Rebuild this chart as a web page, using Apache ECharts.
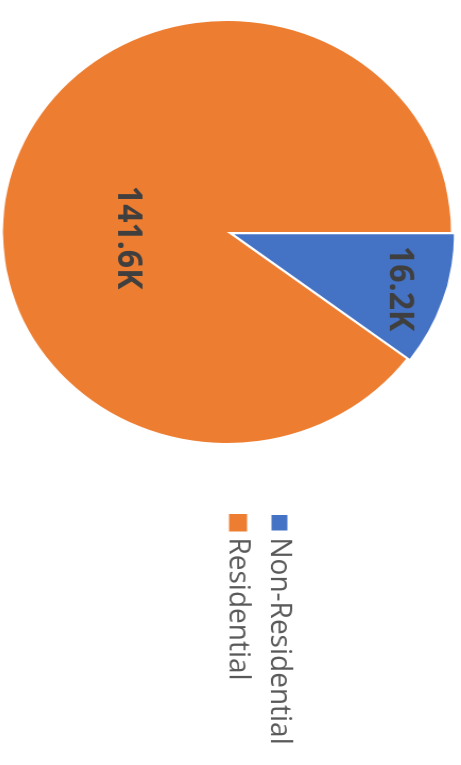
<!DOCTYPE html>
<html>
<head>
<meta charset="utf-8">
<script src="https://cdn.jsdelivr.net/npm/echarts@6/dist/echarts.min.js"></script>
<style>
  html, body { margin: 0; padding: 0; background: #fff; overflow: hidden; }
  #wrap { position: absolute; left: 0; top: 0; width: 461px; height: 765px; }
  #chart {
    position: absolute; left: 0; top: 0;
    width: 765px; height: 434px;
    transform-origin: 0 0;
    transform: translate(461px, 0) rotate(90deg) scale(1, 1.0616);
  }
</style>
</head>
<body>
<div id="wrap"><div id="chart"></div></div>
<script>
// Data
const categories = ['Non-Residential', 'Residential'];
const values = [16200, 141600];
const colors = ['#4472C4', '#ED7D31'];

// Label offsets (layout only)
const labelShift = [
  { dx: 21, dy: -56 },
  { dx: 40, dy: -9 }
];

const chart = echarts.init(document.getElementById('chart'), null, { renderer: 'canvas' });
chart.setOption({
  animation: false,
  backgroundColor: '#ffffff',
  legend: {
    orient: 'vertical',
    left: 508,
    top: 152,
    icon: 'rect',
    itemWidth: 17.5,
    itemHeight: 17,
    itemGap: 11,
    selectedMode: false,
    data: categories,
    textStyle: {
      fontFamily: 'Open Sans',
      fontSize: 28,
      color: '#595959',
      padding: [0, 0, 0, 1]
    }
  },
  series: [{
    type: 'pie',
    center: [232, 220.4],
    radius: 211,
    startAngle: 90,
    clockwise: true,
    selectedMode: 'single',
    selectedOffset: 4,
    avoidLabelOverlap: false,
    labelLine: { show: false },
    label: {
      show: true,
      position: 'inside',
      rotate: 0,
      fontFamily: 'Open Sans',
      fontWeight: 'bold',
      fontSize: 32,
      color: '#3f3f3f',
      formatter: p => (p.value / 1000).toFixed(1) + 'K'
    },
    labelLayout: p => labelShift[p.dataIndex],
    emphasis: { disabled: true },
    data: categories.map((c, i) => ({
      name: c,
      value: values[i],
      selected: i === 0,
      itemStyle: { color: colors[i], borderColor: '#ffffff', borderWidth: i === 0 ? 2 : 0 },
      select: { itemStyle: { color: colors[i], borderColor: '#ffffff', borderWidth: 2 } }
    }))
  }]
});
</script>
</body>
</html>
